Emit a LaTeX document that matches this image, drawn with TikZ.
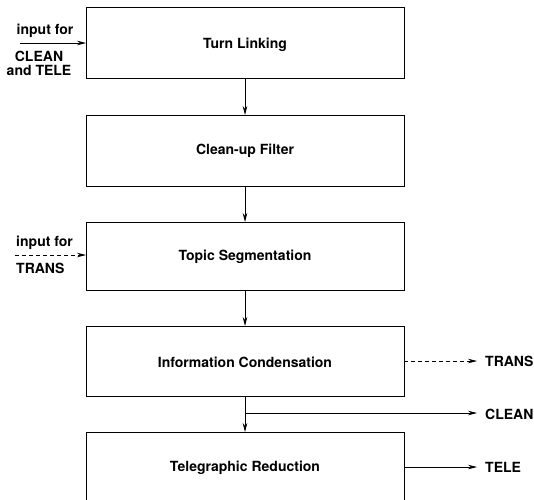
\documentclass[tikz,border=0pt]{standalone}
\usepackage{fontspec}
\setmainfont{TeX Gyre Heros}
\usetikzlibrary{arrows.meta}
\begin{document}
\begin{tikzpicture}[x=1pt,y=-1pt,
  stagebox/.style={draw,line width=0.8pt},
  lbl/.style={font=\bfseries\fontsize{14}{14}\selectfont,inner sep=0pt},
  flow/.style={line width=0.7pt,-{Stealth[length=9pt,width=4.5pt]}},
  dflow/.style={flow,dash pattern=on 4pt off 3pt}]
\useasboundingbox (0,0) rectangle (534,499);
% processing stages
\draw[stagebox] (86,7) rectangle (404,78);
\draw[stagebox] (86,115) rectangle (404,186);
\draw[stagebox] (86,222) rectangle (404,290);
\draw[stagebox] (86,326) rectangle (404,396);
\draw[stagebox] (86,432) rectangle (404,510);
\node[lbl] (s1) at (245,45) {Turn Linking};
\node[lbl] (s2) at (245,151) {Clean-up Filter};
\node[lbl] (s3) at (245,257) {Topic Segmentation};
\node[lbl] (s4) at (245,362) {Information Condensation};
\node[lbl] (s5) at (245,468) {Telegraphic Reduction};
\coordinate (b1t) at (245,7);   \coordinate (b1b) at (245,78);
\coordinate (b2t) at (245,115); \coordinate (b2b) at (245,186);
\coordinate (b3t) at (245,222); \coordinate (b3b) at (245,290);
\coordinate (b4t) at (245,326); \coordinate (b4b) at (245,396);
\coordinate (b5t) at (245,432);
% chain between stages
\draw[flow] (b1b) -- (b2t);
\draw[flow] (b2b) -- (b3t);
\draw[flow] (b3b) -- (b4t);
\draw[flow] (b4b) -- (b5t);
% inputs
\coordinate (in1) at (20,43);  \coordinate (e1) at (86,43);
\coordinate (in2) at (15,255); \coordinate (e2) at (86,255);
\draw[flow] (in1) -- (e1);
\draw[dflow] (in2) -- (e2);
\node[lbl] (t1) at (45,31) {input for};
\node[lbl,align=center] (t2) at (39,63) {CLEAN\\and TELE};
\node[lbl,anchor=west] (t3) at (16,243) {input for};
\node[lbl,anchor=west] (t4) at (16,268) {TRANS};
% outputs
\coordinate (o1) at (404,361); \coordinate (o2) at (245,413); \coordinate (o3) at (404,467);
\coordinate (a1) at (477,361); \coordinate (a2) at (477,413); \coordinate (a3) at (477,467);
\node[lbl,anchor=west] (r1) at (485,361) {TRANS};
\node[lbl,anchor=west] (r2) at (485,414) {CLEAN};
\node[lbl,anchor=west] (r3) at (485,467) {TELE};
\draw[dflow] (o1) -- (a1);
\draw[flow] (o2) -- (a2);
\draw[flow] (o3) -- (a3);
\end{tikzpicture}
\end{document}
